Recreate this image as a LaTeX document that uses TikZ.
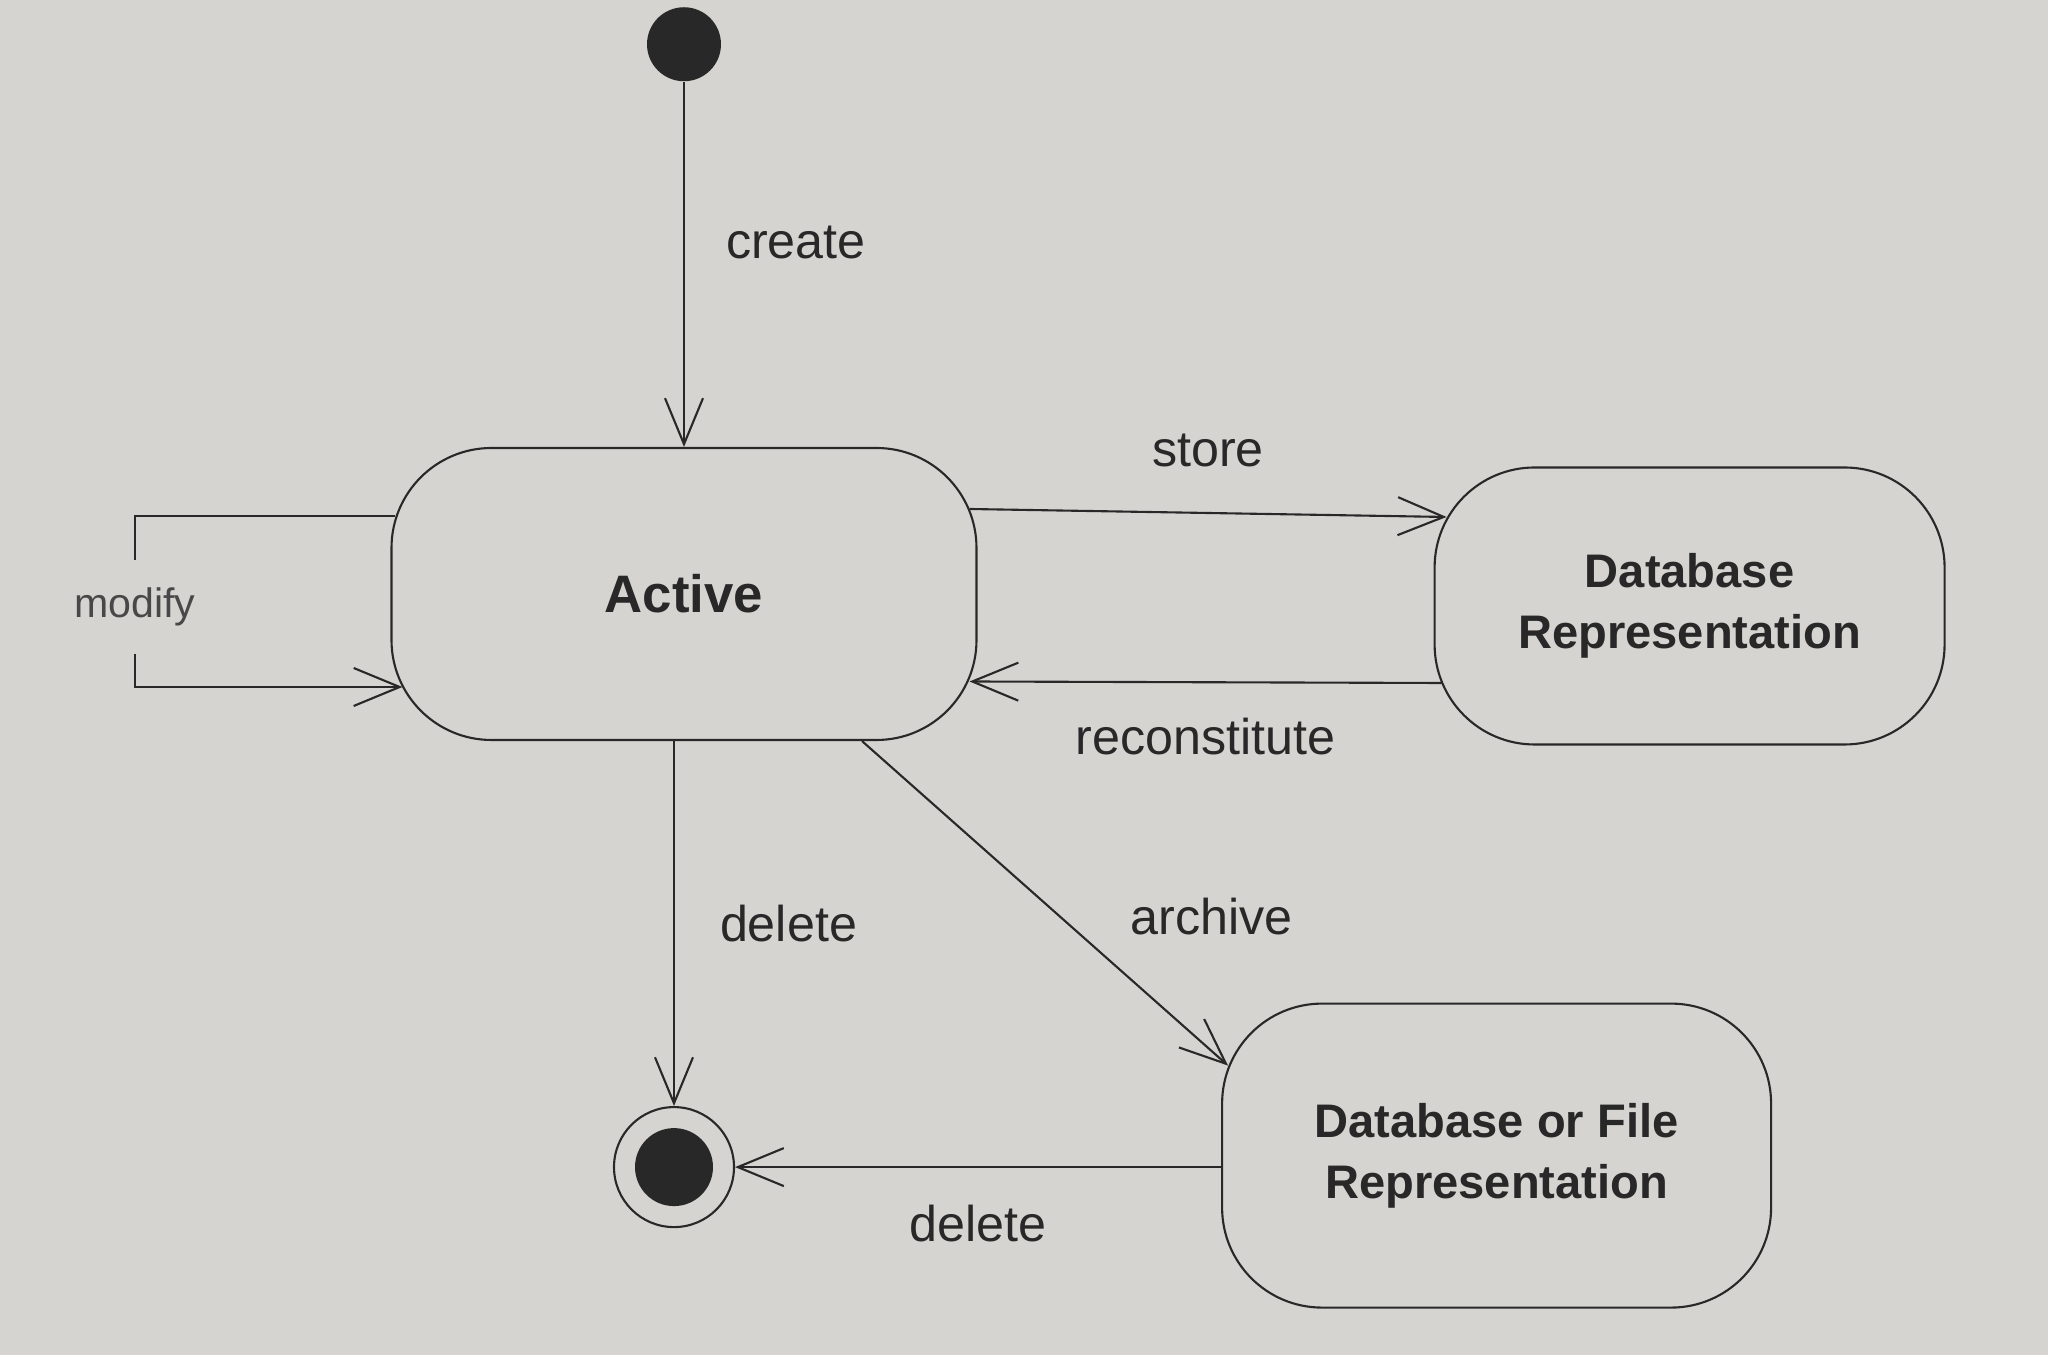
\documentclass[tikz,border=0pt]{standalone}
\usepackage{fontspec}
\setmainfont{Liberation Sans}
\usetikzlibrary{arrows.meta,positioning,calc}
\definecolor{paper}{RGB}{214,212,209}
\definecolor{ink}{RGB}{40,40,40}

\begin{document}
\begin{tikzpicture}[
    node distance=10mm,
    statebox/.style={rounded corners=10mm, draw=ink, line width=0.6pt, align=center, text=ink,
      font=\fontsize{13.4pt}{17.5pt}\selectfont\bfseries},
    initstate/.style={circle, fill=ink, minimum size=7.4mm, inner sep=0pt},
    finalstate/.style={circle, draw=ink, line width=0.6pt, minimum size=12mm, inner sep=0pt,
      path picture={\fill[ink] (path picture bounding box.center) circle (3.9mm);}},
    lbl/.style={inner sep=0pt, text=ink, font=\fontsize{14.3pt}{17pt}\selectfont},
    conn/.style={->, draw=ink, line width=0.6pt},
    >={Straight Barb[length=4.6mm,width=3.8mm]}]
  \fill[paper] (0,0) rectangle (20.48,-13.55);
  \useasboundingbox (0,0) rectangle (20.48,-13.55);

  \node[statebox, minimum width=58.5mm, minimum height=29.2mm,
        font=\fontsize{15pt}{18pt}\selectfont\bfseries] (active) at (6.84,-5.94) {Active};
  \node[initstate, above=36.5mm of active] (init) {};
  \node[statebox, minimum width=51mm, minimum height=27.7mm, right=45.6mm of active, yshift=-1.2mm] (db)
    {Database\\Representation};
  \node[statebox, minimum width=54.9mm, minimum height=30.4mm, below=25.7mm of db, xshift=-19.3mm] (dbf)
    {Database or File\\Representation};
  \node[finalstate, below=36.5mm of active, xshift=-1mm] (final) {};
  \node[lbl, font=\fontsize{11.7pt}{14pt}\selectfont, minimum height=9.2mm, text=ink!85] (modify)
    at (1.35,-6.07) {modify};

  \draw[conn] (init) -- (init |- active.north) node[lbl, pos=0.44, right=4.1mm] (create) {create};
  \draw[conn] ($(active.east)+(-0.08,0.85)$) -- ($(db.west)+(0.13,0.89)$)
    node[lbl, midway, above=4.5mm] (store) {store};
  \draw[conn] ($(db.west)+(0.08,-0.77)$) -- ($(active.east)+(-0.08,-0.875)$)
    node[lbl, midway, below=3.5mm] (recon) {reconstitute};

  % self loop
  \draw[draw=ink, line width=0.6pt] ($(active.west)+(0.05,0.78)$) -| (modify.north);
  \draw[conn] (modify.south) |- ($(active.west)+(0.12,-0.93)$);

  \draw[conn] (final |- active.south) -- (final) node[lbl, midway, right=4.5mm] (del1) {delete};
  \draw[conn] ($(active.south)+(1.78,0)$) -- ($(dbf.west)+(0.07,0.9)$)
    node[lbl, pos=0.54, right=7mm] (arch) {archive};
  \draw[conn] (final -| dbf.west) -- (final) node[lbl, midway, below=3.7mm] (del2) {delete};
\end{tikzpicture}
\end{document}
